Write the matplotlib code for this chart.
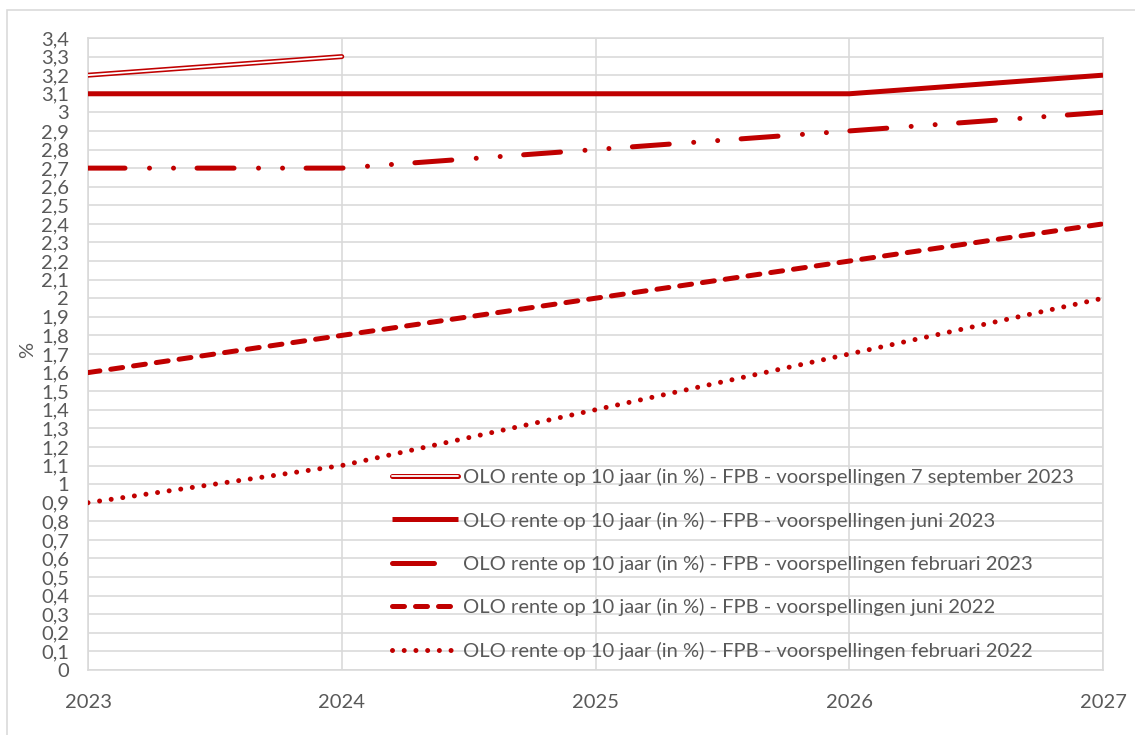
import matplotlib
matplotlib.use("Agg")
import matplotlib.pyplot as plt
from matplotlib.patches import Rectangle
import matplotlib.patheffects as pe
import numpy as np

plt.rcParams['font.family'] = ['Lato', 'DejaVu Sans']
plt.rcParams['lines.scale_dashes'] = False

years = [2023, 2024, 2025, 2026, 2027]
sept2023_years = [2023, 2024]
sept2023 = [3.2, 3.3]
juni2023 = [3.1, 3.1, 3.1, 3.1, 3.2]
feb2023 = [2.7, 2.7, 2.8, 2.9, 3.0]
juni2022 = [1.6, 1.8, 2.0, 2.2, 2.4]
feb2022 = [0.9, 1.1, 1.4, 1.7, 2.0]
labels = [
    "OLO rente op 10 jaar (in %) - FPB - voorspellingen 7 september 2023",
    "OLO rente op 10 jaar (in %) - FPB - voorspellingen juni 2023",
    "OLO rente op 10 jaar (in %) - FPB - voorspellingen februari 2023",
    "OLO rente op 10 jaar (in %) - FPB - voorspellingen juni 2022",
    "OLO rente op 10 jaar (in %) - FPB - voorspellingen februari 2022",
]

RED = '#C00000'
GRID = '#D9D9D9'
TXT = '#595959'
FS = 14.5
W, H = 1135, 735
fig = plt.figure(figsize=(W / 100, H / 100), dpi=100)
ax = fig.add_axes([88 / W, 1 - 670 / H, (1103 - 88) / W, (670 - 38) / H])

px = 0.72  # points per pixel

# 7 september 2023 : double line (red outline, white core)
l1, = ax.plot(sept2023_years, sept2023, color='white', lw=1.8 * px, solid_capstyle='round', zorder=5,
              path_effects=[pe.Stroke(linewidth=5 * px, foreground=RED), pe.Normal()])

# juni 2023 : thick solid
l2, = ax.plot(years, juni2023, color=RED, lw=5 * px, solid_capstyle='butt', zorder=5)

# februari 2023 : long dash dot dot
lw3 = 5 * px
l3, = ax.plot(years, feb2023, color=RED, lw=lw3, dash_capstyle='round', zorder=5,
              dashes=(42 * px - lw3, 19.5 * px + lw3, 0.01, 19 * px + lw3, 0.01, 18.5 * px + lw3))

# juni 2022 : dashed
lw4 = 5 * px
l4, = ax.plot(years, juni2022, color=RED, lw=lw4, dash_capstyle='round', zorder=5,
              dashes=(17 * px - lw4, 6 * px + lw4))

# februari 2022 : dotted
lw5 = 5 * px
l5, = ax.plot(years, feb2022, color=RED, lw=lw5, dash_capstyle='round', zorder=5,
              dashes=(0.01, 11.7 * px))

ax.set_xlim(2023, 2027)
ax.set_ylim(0, 3.4)
ax.set_xticks(years)
ax.set_xticklabels([str(y) for y in years])
yt = np.round(np.arange(0, 3.41, 0.1), 1)
ax.set_yticks(yt)
ax.set_yticklabels([('%g' % v).replace('.', ',') for v in yt])
ax.tick_params(axis='both', length=0, labelsize=FS, colors=TXT)
ax.tick_params(axis='y', pad=19 * px)
ax.tick_params(axis='x', pad=24 * px)
ax.grid(True, color=GRID, lw=1.6 * px, zorder=0)
ax.set_axisbelow(True)
for s in ax.spines.values():
    s.set_color(GRID)
    s.set_linewidth(1.6 * px)
ax.set_ylabel('%', color=TXT, fontsize=FS)
ax.yaxis.set_label_coords(-(88 - 36) / (1103 - 88), (670 - 350) / (670 - 38))

leg = ax.legend([l1, l2, l3, l4, l5], labels,
                loc='upper left', bbox_to_anchor=(392 / W, 1 - 468 / H),
                bbox_transform=fig.transFigure, frameon=False, fontsize=FS,
                handlelength=3.3, handletextpad=0.25, labelspacing=1.26,
                borderpad=0, borderaxespad=0)
for t in leg.get_texts():
    t.set_color(TXT)
# legend sample of the long-dash-dot-dot line shows only its first dash
leg.legend_handles[2].set_dashes((47 * px - lw3, 200))

fig.patches.append(Rectangle((7 / W, -0.05), 1.1, 1 - 10 / H + 0.05, transform=fig.transFigure,
                             fill=False, edgecolor=GRID, lw=1.6 * px))

fig.savefig('out.png', dpi=100)
